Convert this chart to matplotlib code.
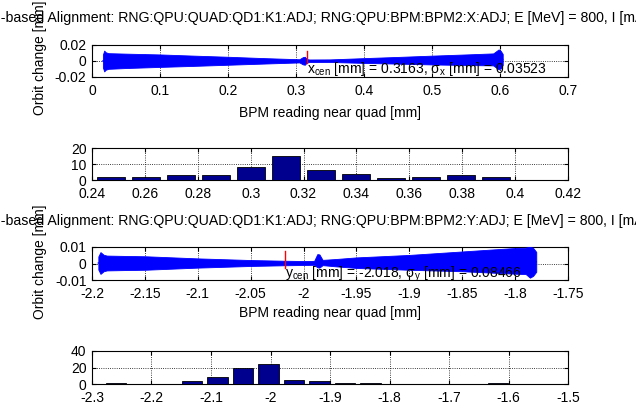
import numpy as np
import matplotlib
matplotlib.use("Agg")
import matplotlib.pyplot as plt
from matplotlib.ticker import FuncFormatter

plt.rcParams["font.family"] = ["Liberation Sans", "DejaVu Sans"]
plt.rcParams["mathtext.fontset"] = "custom"
plt.rcParams["mathtext.rm"] = "Liberation Sans"
plt.rcParams["mathtext.it"] = "Liberation Sans"
plt.rcParams["axes.unicode_minus"] = False
plt.rcParams["font.size"] = 10

# --- horizontal plane scan (BPM2:X) ---
x_bpm = [0.016, 0.018, 0.020, 0.024, 0.05, 0.10, 0.15, 0.20, 0.25, 0.29, 0.305, 0.310,
         0.313, 0.316, 0.32, 0.35, 0.40, 0.45, 0.50, 0.55, 0.59, 0.598, 0.601, 0.604]
x_orbit = [0.0, 0.0, 0.0, 0.0, 0.0002, 0.0004, 0.0003, 0.0003, 0.0002, 0.0002, 0.0002, 0.0003,
           0.0003, 0.0003, 0.0003, 0.0004, 0.0006, 0.0009, 0.0012, 0.0016, 0.0020, 0.0020, 0.0018, 0.0018]
x_err = [0.008, 0.013, 0.011, 0.0098, 0.0090, 0.0078, 0.0064, 0.0050, 0.0035, 0.0024, 0.0020, 0.0045,
         0.0050, 0.0020, 0.0016, 0.0016, 0.0030, 0.0042, 0.0055, 0.0066, 0.0075, 0.0125, 0.0110, 0.0070]
x_cen = 0.3163
x_sigma = 0.03523
x_cen_span = [-0.003, 0.012]

x_hist_centers = [0.2473, 0.2605, 0.2737, 0.2870, 0.3002, 0.3134,
                  0.3266, 0.3398, 0.3531, 0.3663, 0.3795, 0.3927]
x_hist_counts = [2, 2, 3, 3, 8, 15, 6, 4, 1, 2, 3, 2]

# --- vertical plane scan (BPM2:Y) ---
y_bpm = [-2.194, -2.192, -2.189, -2.186, -2.17, -2.15, -2.10, -2.05, -2.02, -2.00, -1.99, -1.987,
         -1.985, -1.982, -1.97, -1.95, -1.90, -1.85, -1.80, -1.79, -1.786, -1.783, -1.780]
y_orbit = [0.0003, 0.0003, 0.0003, 0.0003, 0.0003, 0.0003, 0.0003, 0.0003, 0.0003, 0.0003, 0.0004, 0.0017,
           0.0015, 0.0006, 0.0005, 0.0005, 0.0007, 0.0013, 0.0016, 0.0016, 0.0009, 0.0010, 0.0010]
y_err = [0.004, 0.0066, 0.0050, 0.0045, 0.0043, 0.0041, 0.0028, 0.0018, 0.0014, 0.0012, 0.0012, 0.0040,
         0.0040, 0.0016, 0.0022, 0.0032, 0.0045, 0.0060, 0.0078, 0.0080, 0.0095, 0.0085, 0.0060]
y_cen = -2.018
y_sigma = 0.08466
y_cen_span = [-0.003, 0.0075]

y_hist_centers = [-2.26, -2.2172, -2.1744, -2.1316, -2.0888, -2.046, -2.0032, -1.9604,
                  -1.9176, -1.8748, -1.832, -1.7892, -1.7464, -1.7036, -1.6608, -1.618]
y_hist_counts = [1, 0, 0, 4, 9, 20, 24, 5, 4, 1, 1, 0, 0, 0, 0, 1]

title_x = "Beam-based Alignment: RNG:QPU:QUAD:QD1:K1:ADJ; RNG:QPU:BPM:BPM2:X:ADJ; E [MeV] = 800, I [mA] = 10"
title_y = "Beam-based Alignment: RNG:QPU:QUAD:QD1:K1:ADJ; RNG:QPU:BPM:BPM2:Y:ADJ; E [MeV] = 800, I [mA] = 10"

x_scan_ticks = [0, 0.1, 0.2, 0.3, 0.4, 0.5, 0.6, 0.7]
x_scan_yticks = [-0.02, 0, 0.02]
x_hist_ticks = [0.24, 0.26, 0.28, 0.3, 0.32, 0.34, 0.36, 0.38, 0.4, 0.42]
x_hist_yticks = [0, 10, 20]
y_scan_ticks = [-2.2, -2.15, -2.1, -2.05, -2, -1.95, -1.9, -1.85, -1.8, -1.75]
y_scan_yticks = [-0.01, 0, 0.01]
y_hist_ticks = [-2.3, -2.2, -2.1, -2.0, -1.9, -1.8, -1.7, -1.6, -1.5]
y_hist_yticks = [0, 20, 40]

W, H = 636, 408
fig = plt.figure(figsize=(W / 100, H / 100), dpi=100)
fmt = FuncFormatter(lambda v, p: "%g" % round(v, 6))


def make_ax(top, bottom):
    ax = fig.add_axes([92 / W, 1 - bottom / H, 476 / W, (bottom - top) / H])
    ax.tick_params(direction="in", length=3, top=True, right=True, labelsize=10, pad=4)
    ax.tick_params(axis="x", pad=5)
    ax.grid(True, ls=":", color="k", lw=0.6)
    ax.set_axisbelow(True)
    for s in ax.spines.values():
        s.set_linewidth(0.8)
    ax.xaxis.set_major_formatter(fmt)
    ax.yaxis.set_major_formatter(fmt)
    return ax


def scan_panel(top, bottom, bpm, orbit, err, xlim, ylim, xt, yt, cen, span, label):
    ax = make_ax(top, bottom)
    orbit = np.array(orbit)
    err = np.array(err)
    ax.fill_between(bpm, orbit - err, orbit + err, color="b", lw=0.6, zorder=3)
    ax.plot(bpm, orbit, color="b", lw=1, zorder=4)
    ax.plot([cen, cen], span, color="r", lw=1, zorder=5)
    ax.text(cen, span[0] - (ylim[1] - ylim[0]) * 0.17, label, ha="left", va="center",
            fontsize=10, zorder=6)
    ax.set_xlim(xlim)
    ax.set_ylim(ylim)
    ax.set_xticks(xt)
    ax.set_yticks(yt)
    return ax


def hist_panel(top, bottom, centers, counts, width, xlim, ylim, xt, yt):
    ax = make_ax(top, bottom)
    ax.bar(centers, counts, width=width, color=(0, 0, 0.5625), edgecolor="k", lw=0.6, zorder=3)
    ax.set_xlim(xlim)
    ax.set_ylim(ylim)
    ax.set_xticks(xt)
    ax.set_yticks(yt)
    return ax


# horizontal plane
scan_panel(45, 77, x_bpm, x_orbit, x_err, (0, 0.7), (-0.02, 0.02), x_scan_ticks, x_scan_yticks,
           x_cen, x_cen_span,
           r"x$_{\mathrm{cen}}$ [mm] = %.4f, σ$_{\mathrm{x}}$ [mm] = %.5f" % (x_cen, x_sigma))
fig.text(322 / W, 1 - 18 / H, title_x, ha="center", va="center", fontsize=10.15)
fig.text(330 / W, 1 - 113 / H, "BPM reading near quad [mm]", ha="center", va="center", fontsize=10)
fig.text(40 / W, 1 - 58 / H, "Orbit change [mm]", rotation=90, ha="center", va="center", fontsize=10)
hist_panel(148, 180, x_hist_centers, x_hist_counts, 0.0106, (0.24, 0.42), (0, 20),
           x_hist_ticks, x_hist_yticks)

# vertical plane
scan_panel(247, 280, y_bpm, y_orbit, y_err, (-2.2, -1.75), (-0.01, 0.01), y_scan_ticks, y_scan_yticks,
           y_cen, y_cen_span,
           r"y$_{\mathrm{cen}}$ [mm] = %.3f, σ$_{\mathrm{y}}$ [mm] = %.5f" % (y_cen, y_sigma))
fig.text(322 / W, 1 - 221 / H, title_y, ha="center", va="center", fontsize=10.15)
fig.text(330 / W, 1 - 313 / H, "BPM reading near quad [mm]", ha="center", va="center", fontsize=10)
fig.text(40 / W, 1 - 262 / H, "Orbit change [mm]", rotation=90, ha="center", va="center", fontsize=10)
hist_panel(351, 384, y_hist_centers, y_hist_counts, 0.0343, (-2.3, -1.5), (0, 40),
           y_hist_ticks, y_hist_yticks)

fig.savefig("out.png", dpi=100)
